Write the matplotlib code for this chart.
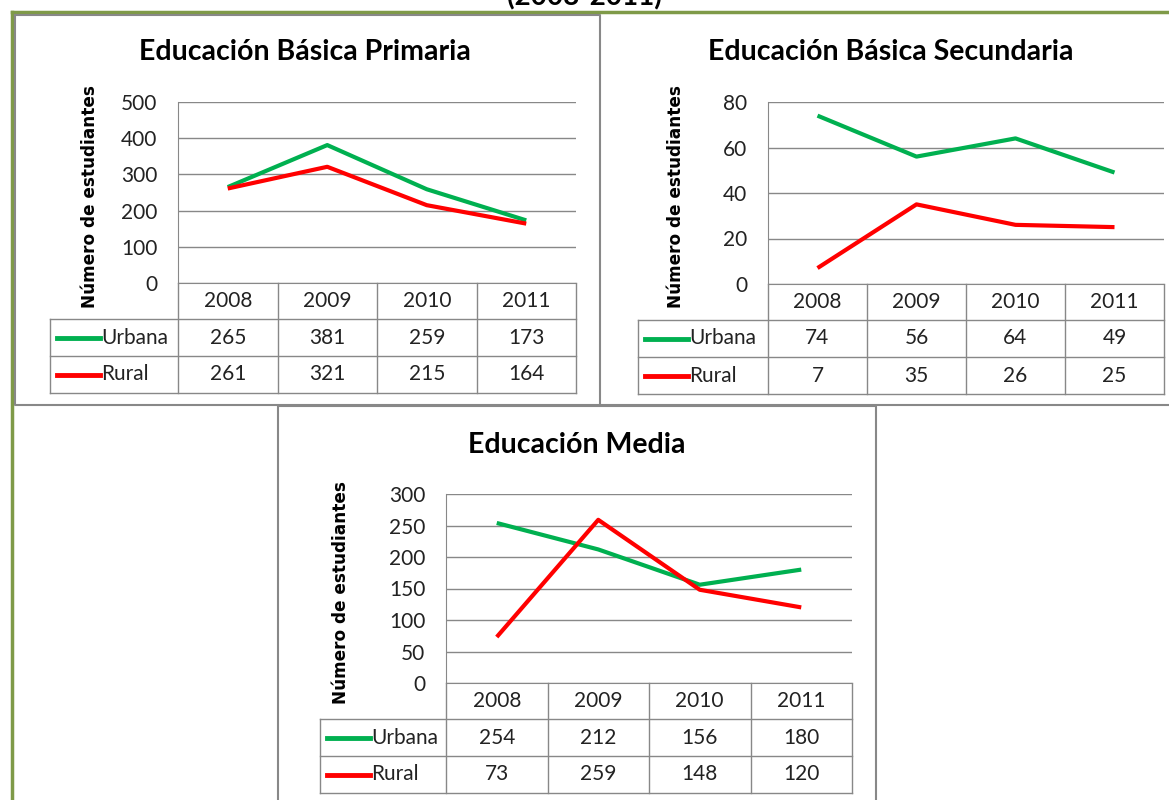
import matplotlib
matplotlib.use('Agg')
import matplotlib.pyplot as plt
from matplotlib.lines import Line2D

# datos
years = ['2008', '2009', '2010', '2011']
series_names = ['Urbana', 'Rural']
primaria_urbana = [265, 381, 259, 173]
primaria_rural = [261, 321, 215, 164]
secundaria_urbana = [74, 56, 64, 49]
secundaria_rural = [7, 35, 26, 25]
media_urbana = [254, 212, 156, 180]
media_rural = [73, 259, 148, 120]

GREEN = '#00B050'
RED = '#FF0000'
GRID = '#888888'
W, H = 1169, 800

fig = plt.figure(figsize=(W / 100, H / 100), dpi=100)
fig.patch.set_facecolor('white')

TXT = ['Lato', 'DejaVu Sans']
FS = 15


def fx(x):
    return x / W


def fy(y):
    return 1 - y / H


def fig_line(xs, ys, color=GRID, lw=1.0):
    fig.add_artist(Line2D([fx(v) for v in xs], [fy(v) for v in ys],
                          transform=fig.transFigure, color=color, lw=lw))


def chart(title, urb, rur, ymax, ystep, left, right, top, bottom,
          table_left, title_xy, ylabel_x):
    ax = fig.add_axes([fx(left), fy(bottom), fx(right) - fx(left),
                       (bottom - top) / H])
    xs = range(len(years))
    ax.plot(xs, urb, color=GREEN, lw=3.0, solid_capstyle='butt')
    ax.plot(xs, rur, color=RED, lw=3.0, solid_capstyle='butt')
    ax.set_xlim(-0.5, len(years) - 0.5)
    ax.set_ylim(0, ymax)
    ax.set_yticks(range(0, ymax + 1, ystep))
    ax.set_xticks([])
    ax.yaxis.grid(True, color=GRID, lw=1.0)
    ax.set_axisbelow(True)
    for s in ['top', 'right']:
        ax.spines[s].set_visible(False)
    ax.spines['left'].set_color(GRID)
    ax.spines['bottom'].set_color(GRID)
    ax.tick_params(axis='y', length=0, pad=15, labelsize=FS,
                   labelcolor='#222222')
    for lab in ax.get_yticklabels():
        lab.set_family(TXT)

    # tabla de datos debajo del eje
    tr = ax.get_xaxis_transform()
    h = bottom - top
    colw = (right - left) / len(years)
    row_h = 37
    y_head = bottom + 36
    y_r1 = y_head + row_h
    y_r2 = y_r1 + row_h

    def ay(y):
        return (bottom - y) / h

    x_tl = -0.5 - (left - table_left) / colw
    kw = dict(transform=tr, color=GRID, lw=1.0, clip_on=False)
    for i in range(len(years) + 1):
        ax.add_line(Line2D([i - 0.5, i - 0.5], [0, ay(y_r2)], **kw))
    ax.add_line(Line2D([x_tl, x_tl], [ay(y_head), ay(y_r2)], **kw))
    for yy in [y_head, y_r1, y_r2]:
        ax.add_line(Line2D([x_tl, len(years) - 0.5], [ay(yy)] * 2, **kw))

    for i, yr in enumerate(years):
        ax.text(i, ay((bottom + y_head) / 2), yr, transform=tr, ha='center',
                va='center', fontsize=FS, family=TXT, color='#222222')
    rows = [(urb, GREEN, y_head, y_r1), (rur, RED, y_r1, y_r2)]
    for (vals, col, y0, y1), name in zip(rows, series_names):
        yc = ay((y0 + y1) / 2)
        for i, v in enumerate(vals):
            ax.text(i, yc, str(v), transform=tr, ha='center', va='center',
                    fontsize=FS, family=TXT, color='#222222')
        k0 = x_tl + 7 / colw
        k1 = x_tl + 50 / colw
        ax.add_line(Line2D([k0, k1], [yc, yc], transform=tr, color=col,
                           lw=3.5, clip_on=False))
        ax.text(k1 + 1 / colw, yc, name, transform=tr, ha='left',
                va='center', fontsize=FS, family=TXT, color='#222222')

    fig.text(fx(title_xy[0]), fy(title_xy[1]), title, ha='center',
             va='center', fontsize=20.5, fontweight='bold', family=TXT)
    fig.text(fx(ylabel_x), fy((top + bottom) / 2 + 4), 'Número de estudiantes',
             rotation=90, ha='center', va='center', fontsize=12.2,
             fontweight='bold', family=['DejaVu Sans'])
    return ax


# título general, recortado arriba
fig.text(0.5, fy(5), '(2008-2011)', ha='center', va='baseline', fontsize=20,
         fontweight='bold', family=TXT)

# marcos
fig_line([12, 1169], [12, 12], color='#7F9A48', lw=2.5)
fig_line([12, 12], [12, 800], color='#7F9A48', lw=2.5)
fig_line([15, 600, 600, 15, 15], [15, 15, 405, 405, 15], lw=1.5)
fig_line([600, 1169], [405, 405], lw=1.5)
fig_line([278, 278, 876, 876], [800, 406, 406, 800], lw=1.5)

chart('Educación Básica Primaria', primaria_urbana, primaria_rural, 500, 100,
      178, 576, 102, 283, 50, (305, 52), 90)
chart('Educación Básica Secundaria', secundaria_urbana, secundaria_rural,
      80, 20, 768, 1164, 102, 284, 638, (891, 52), 676)
chart('Educación Media', media_urbana, media_rural, 300, 50,
      446, 852, 494, 683, 320, (577, 445), 341)

fig.savefig('out.png', dpi=100, facecolor='white')
